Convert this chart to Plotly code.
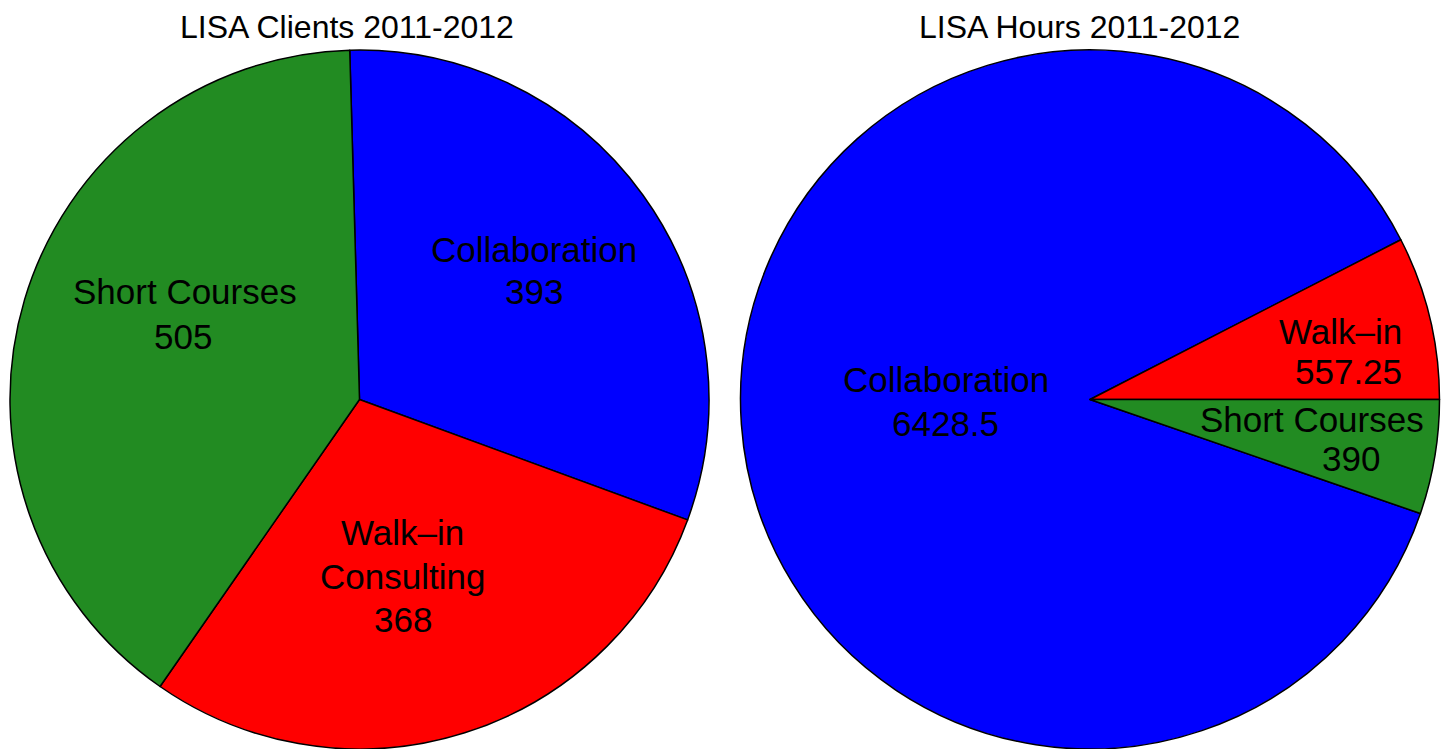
import plotly.graph_objects as go

# ---- data ----
categories = ["Collaboration", "Walk-in Consulting", "Short Courses"]
clients = [393, 368, 505]
hours = [6428.5, 557.25, 390]
colors = ["#0000FF", "#FF0000", "#228B22"]
titles = ["LISA Clients 2011-2012", "LISA Hours 2011-2012"]

W, H = 1443, 749

def px(x):
    return x / W

def py(y):
    return 1 - y / H

fig = go.Figure()

# left pie: clockwise, first slice starts just left of 12 o'clock
fig.add_trace(go.Pie(
    labels=categories, values=clients, sort=False, direction="clockwise",
    rotation=-1.6, textinfo="none", hoverinfo="label+value",
    marker=dict(colors=colors, line=dict(color="black", width=1.5)),
    domain=dict(x=[px(10), px(709)], y=[0, py(50)]),
    showlegend=False,
))

# right pie: clockwise, rotated so Walk-in starts at 3 o'clock going up
tot_h = sum(hours)
fig.add_trace(go.Pie(
    labels=categories, values=hours, sort=False, direction="clockwise",
    rotation=90 + 360 * hours[2] / tot_h, textinfo="none", hoverinfo="label+value",
    marker=dict(colors=colors, line=dict(color="black", width=1.5)),
    domain=dict(x=[px(740.5), px(1439.5)], y=[0, py(50)]),
    showlegend=False,
))

FONT = "Liberation Sans, Arial, Helvetica, sans-serif"
LBL = 35
TTL = 32

# label lines: (text, x_px, y_px, xanchor)
left_labels = [
    ("Collaboration", 534, 249, "center"),
    (str(clients[0]), 534, 291, "center"),
    ("Short Courses", 185.3, 291, "center"),
    (str(clients[2]), 182.5, 336, "center"),
    ("Walk\u2013in", 403, 532, "center"),
    ("Consulting", 403, 576, "center"),
    (str(clients[1]), 402.5, 619, "center"),
]
right_labels = [
    ("Collaboration", 945.5, 379.3, "center"),
    ("6428.5", 945, 423.3, "center"),
    ("Walk\u2013in", 1404, 331.7, "right"),
    ("557.25", 1404, 372, "right"),
    ("Short Courses", 1312, 419.5, "center"),
    (str(hours[2]), 1351, 458, "center"),
]

annotations = []
for t, x, y, xa in left_labels + right_labels:
    annotations.append(dict(
        text=t, x=px(x), y=py(y), xref="paper", yref="paper",
        xanchor=xa, yanchor="middle", showarrow=False,
        font=dict(family=FONT, size=LBL, color="black"),
    ))

for t, x in zip(titles, [347.3, 1079]):
    annotations.append(dict(
        text=t, x=px(x), y=py(26.7), xref="paper", yref="paper",
        xanchor="center", yanchor="middle", showarrow=False,
        font=dict(family=FONT, size=TTL, color="black"),
    ))

fig.update_layout(
    width=W, height=H,
    margin=dict(l=0, r=0, t=0, b=0),
    paper_bgcolor="white", plot_bgcolor="white",
    annotations=annotations,
    font=dict(family=FONT),
)

fig.write_html(
    "out.html",
    config={"displayModeBar": False},
    post_script="document.body.style.margin='0';document.body.style.overflow='hidden';",
)
